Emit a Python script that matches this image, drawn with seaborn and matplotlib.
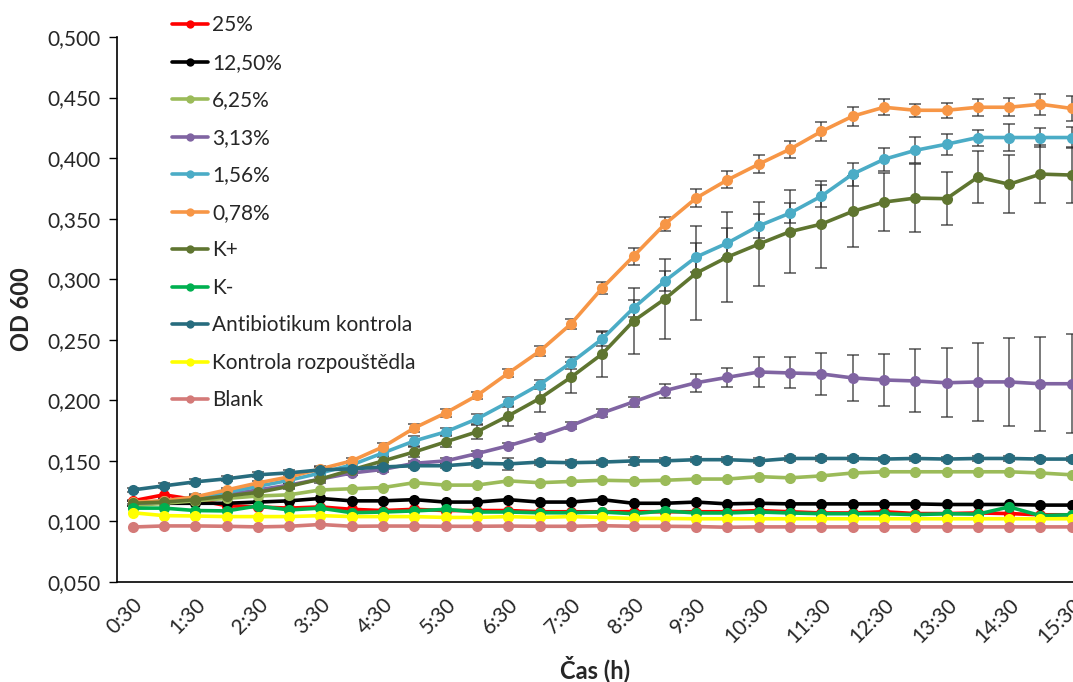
import matplotlib
matplotlib.use("Agg")
import matplotlib.pyplot as plt
from matplotlib.lines import Line2D
import seaborn as sns
import pandas as pd
import numpy as np

times = ["0:30", "1:00", "1:30", "2:00", "2:30", "3:00", "3:30", "4:00", "4:30", "5:00",
         "5:30", "6:00", "6:30", "7:00", "7:30", "8:00", "8:30", "9:00", "9:30", "10:00",
         "10:30", "11:00", "11:30", "12:00", "12:30", "13:00", "13:30", "14:00", "14:30",
         "15:00", "15:30"]

series_names = ["25%", "12,50%", "6,25%", "3,13%", "1,56%", "0,78%", "K+", "K-",
                "Antibiotikum kontrola", "Kontrola rozpouštědla", "Blank"]

s25 = [0.117, 0.122, 0.118, 0.113, 0.112, 0.111, 0.112, 0.110, 0.109, 0.110, 0.109, 0.109,
       0.109, 0.108, 0.108, 0.108, 0.108, 0.108, 0.108, 0.108, 0.109, 0.108, 0.107, 0.107,
       0.108, 0.1065, 0.1065, 0.107, 0.1065, 0.1055, 0.1055]
s1250 = [0.115, 0.115, 0.115, 0.115, 0.116, 0.117, 0.119, 0.117, 0.117, 0.118, 0.116, 0.116,
         0.118, 0.116, 0.116, 0.118, 0.115, 0.115, 0.116, 0.1145, 0.115, 0.1145, 0.1145,
         0.1145, 0.1145, 0.1145, 0.114, 0.114, 0.114, 0.1135, 0.1135]
s625 = [0.113, 0.115, 0.117, 0.119, 0.121, 0.122, 0.126, 0.127, 0.128, 0.132, 0.130, 0.130,
        0.1335, 0.132, 0.133, 0.134, 0.1335, 0.134, 0.135, 0.135, 0.137, 0.136, 0.1376,
        0.140, 0.141, 0.141, 0.141, 0.141, 0.141, 0.140, 0.1385]
s313 = [0.115, 0.116, 0.119, 0.122, 0.126, 0.130, 0.135, 0.140, 0.143, 0.148, 0.150, 0.156,
        0.1625, 0.170, 0.179, 0.1896, 0.1987, 0.208, 0.2145, 0.219, 0.2234, 0.2226, 0.2218,
        0.2185, 0.2168, 0.216, 0.2145, 0.2152, 0.2152, 0.2137, 0.2137]
s156 = [0.115, 0.117, 0.120, 0.124, 0.129, 0.134, 0.140, 0.1467, 0.1566, 0.1665, 0.174,
        0.1847, 0.1985, 0.213, 0.231, 0.2507, 0.2762, 0.2985, 0.3183, 0.3299, 0.344, 0.3546,
        0.3686, 0.3868, 0.399, 0.4064, 0.4115, 0.417, 0.417, 0.417, 0.417]
s078 = [0.116, 0.117, 0.1203, 0.126, 0.1318, 0.1368, 0.1434, 0.150, 0.1616, 0.1772, 0.1896,
        0.204, 0.2225, 0.2405, 0.263, 0.2927, 0.319, 0.3455, 0.367, 0.382, 0.395, 0.4074,
        0.422, 0.4346, 0.442, 0.4395, 0.4395, 0.442, 0.442, 0.4445, 0.441]
kplus = [0.115, 0.116, 0.118, 0.121, 0.124, 0.129, 0.135, 0.1426, 0.150, 0.1574, 0.1657,
         0.174, 0.1872, 0.2015, 0.219, 0.2383, 0.2655, 0.2837, 0.305, 0.3183, 0.329, 0.3393,
         0.3455, 0.356, 0.3637, 0.367, 0.3665, 0.3843, 0.3784, 0.3868, 0.386]
kminus = [0.111, 0.111, 0.109, 0.1087, 0.1128, 0.1095, 0.111, 0.1072, 0.1078, 0.1087, 0.110,
          0.1078, 0.1078, 0.1072, 0.1072, 0.1078, 0.1064, 0.1087, 0.107, 0.107, 0.1078, 0.107,
          0.1064, 0.1064, 0.1064, 0.1056, 0.1064, 0.106, 0.112, 0.1048, 0.1056]
antibiotic = [0.126, 0.1294, 0.1327, 0.1352, 0.1385, 0.1401, 0.1426, 0.1434, 0.145, 0.146,
              0.146, 0.148, 0.1475, 0.149, 0.1485, 0.149, 0.150, 0.150, 0.151, 0.151, 0.150,
              0.152, 0.152, 0.152, 0.1515, 0.152, 0.1515, 0.152, 0.152, 0.1515, 0.1515]
solvent = [0.1072, 0.1048, 0.1045, 0.104, 0.104, 0.104, 0.1048, 0.104, 0.104, 0.104, 0.1033,
           0.1033, 0.104, 0.1033, 0.104, 0.1033, 0.1025, 0.1025, 0.1022, 0.1022, 0.1022,
           0.1022, 0.1022, 0.1022, 0.1022, 0.1022, 0.1022, 0.1022, 0.1022, 0.1022, 0.1022]
blank = [0.0954, 0.0963, 0.0963, 0.096, 0.0955, 0.096, 0.0975, 0.096, 0.0962, 0.0962, 0.096,
         0.096, 0.0962, 0.096, 0.096, 0.0965, 0.096, 0.096, 0.0958, 0.0952, 0.0955, 0.0955,
         0.0955, 0.0955, 0.0955, 0.0955, 0.0955, 0.0955, 0.0955, 0.0955, 0.0955]

# standard deviations (error bars)
err313 = [0.002, 0.002, 0.002, 0.002, 0.002, 0.002, 0.002, 0.002, 0.002, 0.002, 0.002, 0.002,
          0.002, 0.002, 0.003, 0.003, 0.004, 0.0058, 0.0074, 0.0078, 0.012, 0.0128, 0.0173,
          0.019, 0.0215, 0.026, 0.0285, 0.032, 0.036, 0.039, 0.041]
err156 = [0.002, 0.002, 0.002, 0.002, 0.002, 0.002, 0.002, 0.003, 0.003, 0.004, 0.003, 0.004,
          0.004, 0.004, 0.005, 0.006, 0.007, 0.008, 0.012, 0.012, 0.010, 0.008, 0.009, 0.0095,
          0.0095, 0.0107, 0.0087, 0.0066, 0.011, 0.008, 0.009]
err078 = [0.002, 0.002, 0.002, 0.002, 0.002, 0.002, 0.002, 0.002, 0.003, 0.003, 0.003, 0.003,
          0.003, 0.004, 0.004, 0.005, 0.007, 0.006, 0.0075, 0.007, 0.0075, 0.007, 0.008, 0.008,
          0.0066, 0.0055, 0.006, 0.007, 0.0075, 0.0087, 0.0103]
errkplus = [0.002, 0.002, 0.002, 0.002, 0.002, 0.002, 0.003, 0.004, 0.004, 0.004, 0.0045,
            0.006, 0.0083, 0.011, 0.013, 0.019, 0.0276, 0.0334, 0.0388, 0.037, 0.035, 0.034,
            0.036, 0.029, 0.024, 0.028, 0.022, 0.0215, 0.024, 0.024, 0.023]
errantibiotic = [0.002, 0.002, 0.002, 0.002, 0.002, 0.002, 0.002, 0.002, 0.002, 0.002, 0.002,
                 0.002, 0.005, 0.002, 0.002, 0.002, 0.003, 0.002, 0.002, 0.002, 0.002, 0.002,
                 0.002, 0.002, 0.002, 0.002, 0.002, 0.002, 0.002, 0.002, 0.002]

colors = ["#FF0000", "#000000", "#9BBB59", "#8064A2", "#4BACC6", "#F79646", "#5F7530",
          "#00B050", "#276C7E", "#FFFF00", "#D47A78"]

values = [s25, s1250, s625, s313, s156, s078, kplus, kminus, antibiotic, solvent, blank]
errors = {"3,13%": err313, "1,56%": err156, "0,78%": err078, "K+": errkplus,
          "Antibiotikum kontrola": errantibiotic}

rows = []
for name, vals in zip(series_names, values):
    for i, v in enumerate(vals):
        rows.append({"idx": i, "Čas": times[i], "OD": v, "serie": name})
df = pd.DataFrame(rows)

sns.set_theme(style="white")
plt.rcParams["font.family"] = ["Lato", "DejaVu Sans"]

fig = plt.figure(figsize=(10.73, 6.82), dpi=100)
ax = fig.add_axes([117 / 1073, 1 - 582 / 682, 1 - 117 / 1073, (582 - 37) / 682])

# error bars under the lines
for name, err in errors.items():
    vals = values[series_names.index(name)]
    ax.errorbar(np.arange(len(vals)), vals, yerr=err, fmt="none", ecolor="#2a2a2a",
                elinewidth=1.1, capsize=4, capthick=1.1, alpha=0.8, zorder=1)

palette = dict(zip(series_names, colors))
sns.lineplot(data=df, x="idx", y="OD", hue="serie", hue_order=series_names, palette=palette,
             marker="o", markersize=8, markeredgewidth=0, linewidth=2.6, ax=ax,
             legend=False, zorder=2)

ax.set_xlim(-0.5, 30.04)
ax.set_ylim(0.05, 0.5)
yt = np.arange(0.05, 0.501, 0.05)
ax.set_yticks(yt)
ax.set_yticklabels([f"{v:.3f}".replace(".", ",") for v in yt], fontsize=15)
ax.set_xticks(range(0, 31, 2))
ax.set_xticklabels(times[::2], rotation=45, ha="right", rotation_mode="anchor", fontsize=15)
ax.tick_params(axis="y", direction="out", length=6, width=1, color="black", left=True, pad=6)
ax.tick_params(axis="x", length=0, pad=9)

for s in ["top", "right"]:
    ax.spines[s].set_visible(False)
for s in ["left", "bottom"]:
    ax.spines[s].set_color("black")
    ax.spines[s].set_linewidth(1.2)

ax.set_xlabel("Čas (h)", fontsize=17, fontweight="bold", labelpad=6)
ax.set_ylabel("OD 600", fontsize=17, fontweight="bold", labelpad=10)

handles = [Line2D([0], [0], color=c, lw=2.6, marker="o", markersize=6, markeredgewidth=0)
           for c in colors]
fig.legend(handles, series_names, loc="upper left", bbox_to_anchor=(164 / 1073, 1 - 7 / 682),
           frameon=False, fontsize=15, handlelength=1.7, handletextpad=0.2,
           labelspacing=0.84, borderaxespad=0)

fig.savefig("out.png", dpi=100)
